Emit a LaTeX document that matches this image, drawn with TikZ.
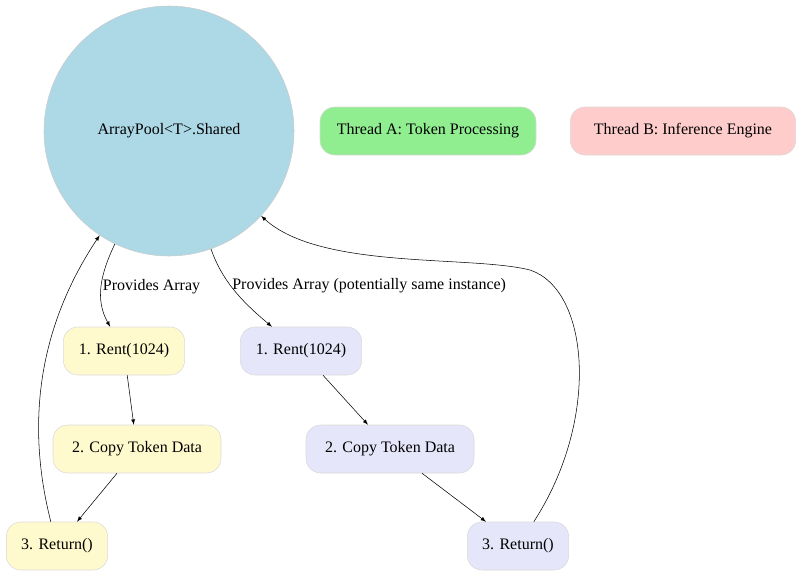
\documentclass[tikz,border=0pt]{standalone}
\usepackage{fontspec}
\setmainfont{Liberation Serif}
\begin{document}
\begin{tikzpicture}[x=0.75pt,y=-0.75pt,font=\fontsize{12}{14}\selectfont,
  bnode/.style={draw=black!15,rounded corners=11pt,minimum height=36pt,inner sep=0pt},
  lbl/.style={fill=none,inner sep=1pt},
  >=latex]
  \useasboundingbox (0,0) rectangle (800,575);
  \node[draw=black!20,circle,fill=cyan!20!blue!10!white,fill={rgb,255:red,173;green,216;blue,230},minimum size=187.5pt] (pool) at (169,131) {ArrayPool<T>.Shared};
  \node[bnode,fill={rgb,255:red,144;green,238;blue,144},minimum width=162pt] (ta) at (428,131) {Thread A: Token Processing};
  \node[bnode,fill={rgb,255:red,255;green,204;blue,204},minimum width=169pt] (tb) at (683,131) {Thread B: Inference Engine};
  \node[bnode,fill={rgb,255:red,255;green,250;blue,205},minimum width=91pt] (a1) at (124,351) {1. Rent(1024)};
  \node[bnode,fill={rgb,255:red,255;green,250;blue,205},minimum width=126pt] (a2) at (137,449) {2. Copy Token Data};
  \node[bnode,fill={rgb,255:red,255;green,250;blue,205},minimum width=76pt] (a3) at (57,546) {3. Return()};
  \node[bnode,fill={rgb,255:red,230;green,230;blue,250},minimum width=91pt] (b1) at (301,351) {1. Rent(1024)};
  \node[bnode,fill={rgb,255:red,230;green,230;blue,250},minimum width=126pt] (b2) at (390,449) {2. Copy Token Data};
  \node[bnode,fill={rgb,255:red,230;green,230;blue,250},minimum width=76pt] (b3) at (518,546) {3. Return()};

  \draw[->] (pool) .. controls (100,275) and (95,300) .. node[lbl,right,pos=0.5] {Provides Array} (a1);
  \draw[->] (pool) .. controls (222,280) and (240,300) .. node[lbl,right,pos=0.45] {Provides Array (potentially same instance)} (b1);
  \draw[->] (a1) -- (a2);
  \draw[->] (a2) -- (a3);
  \draw[->] (b1) -- (b2);
  \draw[->] (b2) -- (b3);
  \draw[->] (a3) .. controls (30,440) and (30,340) .. (pool);
  \draw[->] (b3) .. controls (600,420) and (590,290) .. (530,270)
    .. controls (470,255) and (320,270) .. (pool);
\end{tikzpicture}
\end{document}
